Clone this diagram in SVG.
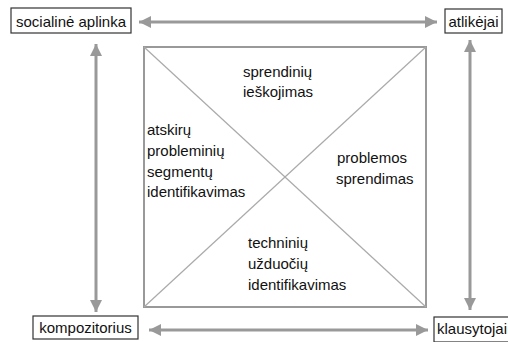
<svg xmlns="http://www.w3.org/2000/svg" width="508" height="342" viewBox="0 0 508 342">
<defs>
<style>
.t{font-family:"Liberation Sans",Arial,sans-serif;font-size:15px;fill:#111}
.box{fill:#fff;stroke:#333;stroke-width:1.2}
.arr{stroke:#999;stroke-width:3;fill:none;marker-start:url(#ah);marker-end:url(#ah)}
.sq{fill:#fff;stroke:#999;stroke-width:2}
.dg{stroke:#aaa;stroke-width:1.2}
</style>
<marker id="ah" viewBox="0 0 10 10" refX="10" refY="5" markerWidth="4.2" markerHeight="4" orient="auto-start-reverse" markerUnits="strokeWidth">
<path d="M0,0 L10,5 L0,10 z" fill="#999"/>
</marker>
</defs>
<rect width="508" height="342" fill="#fff"/>
<g id="connectors">
<line class="arr" x1="139" y1="22" x2="437" y2="22"/>
<line class="arr" x1="96" y1="44" x2="96" y2="312"/>
<line class="arr" x1="470" y1="40" x2="470" y2="310"/>
<line class="arr" x1="149" y1="330" x2="428" y2="330"/>
</g>
<g id="square">
<rect class="sq" x="144" y="47" width="282" height="260"/>
<line class="dg" x1="144" y1="47" x2="426" y2="307"/>
<line class="dg" x1="426" y1="47" x2="144" y2="307"/>
<text class="t" x="243" y="77">sprendinių</text>
<text class="t" x="243" y="97">ieškojimas</text>
<text class="t" x="147" y="135">atskirų</text>
<text class="t" x="147" y="156">probleminių</text>
<text class="t" x="147" y="177">segmentų</text>
<text class="t" x="147" y="197">identifikavimas</text>
<text class="t" x="337" y="163">problemos</text>
<text class="t" x="336" y="184">sprendimas</text>
<text class="t" x="248" y="248">techninių</text>
<text class="t" x="248" y="269">užduočių</text>
<text class="t" x="248" y="290">identifikavimas</text>
</g>
<g id="socialine">
<rect class="box" x="11" y="8" width="120" height="25"/>
<text class="t" x="71" y="27" text-anchor="middle">socialinė aplinka</text>
</g>
<g id="atlikejai">
<rect class="box" x="445" y="9" width="57" height="24"/>
<text class="t" x="473.5" y="27" text-anchor="middle">atlikėjai</text>
</g>
<g id="kompozitorius">
<rect class="box" x="33" y="316" width="105" height="23"/>
<text class="t" x="85.5" y="333" text-anchor="middle">kompozitorius</text>
</g>
<g id="klausytojai">
<rect class="box" x="434" y="317" width="80" height="25"/>
<text class="t" x="437" y="334">klausytojai</text>
</g>
</svg>
